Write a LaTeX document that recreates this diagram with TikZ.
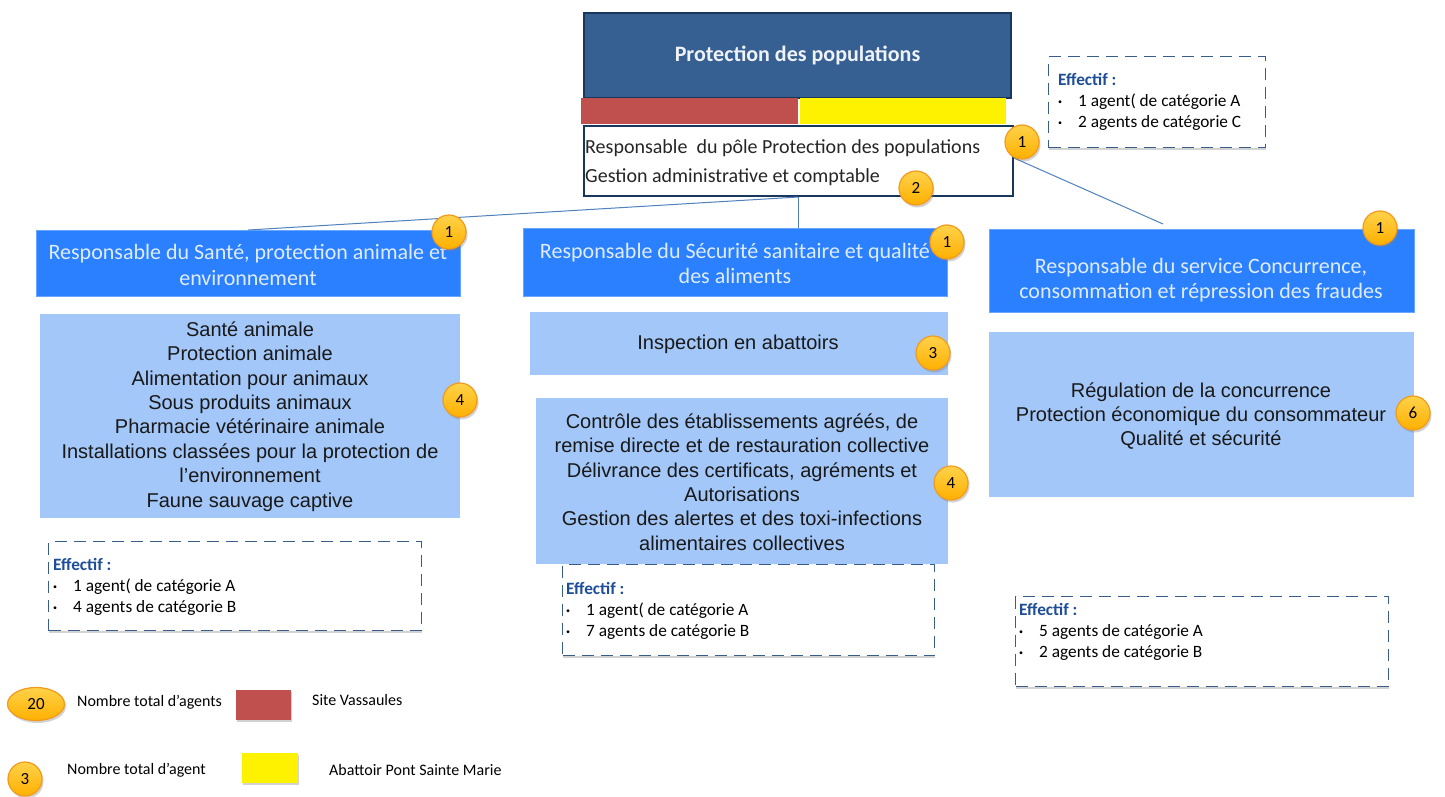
\documentclass[tikz,border=0pt]{standalone}
\usepackage{fontspec}
\setmainfont{Carlito}
\newfontfamily\arialf{Liberation Sans}
\usetikzlibrary{shadows,shapes.geometric}
\definecolor{navy}{HTML}{17375E}
\definecolor{topblue}{HTML}{376092}
\definecolor{hdrblue}{HTML}{2A80FF}
\definecolor{lightblue}{HTML}{A3C7F8}
\definecolor{redbar}{HTML}{C0504D}
\definecolor{linkblue}{HTML}{4F81BD}
\definecolor{effblue}{HTML}{1F4E99}
\definecolor{badgetop}{HTML}{FFD24A}
\definecolor{badgebot}{HTML}{FFB000}
\definecolor{badgeline}{HTML}{F39A1C}
\definecolor{dashcol}{HTML}{385D8A}
\tikzset{
  hdr/.style={fill=hdrblue, draw=hdrblue!70!white, anchor=north west, inner sep=0pt},
  hdrtext/.style={text=white!85!hdrblue, font=\fontsize{22}{25.5}\selectfont, align=center, inner sep=0pt},
  content/.style={fill=lightblue, draw=none, anchor=north west, inner sep=0pt},
  contenttext/.style={text=black!90, font=\arialf\fontsize{20}{24.4}\selectfont, align=center, inner sep=0pt},
  effbox/.style={draw=dashcol, line width=1.3pt, dash pattern=on 12pt off 7pt, fill=white, anchor=north west, inner sep=0pt,
     drop shadow={shadow xshift=0.5pt, shadow yshift=-2pt, opacity=.35}},
  efftext/.style={anchor=west, align=left, inner sep=0pt, font=\fontsize{17.3}{21}\selectfont},
  badge/.style={circle, minimum size=34pt, inner sep=0pt, draw=badgeline, line width=1.2pt,
     top color=badgetop, bottom color=badgebot, font=\fontsize{17}{17}\selectfont,
     drop shadow={shadow xshift=1.5pt, shadow yshift=-2.5pt, opacity=.35}},
  link/.style={draw=linkblue, line width=1pt},
  legtext/.style={anchor=west, inner sep=0pt, font=\fontsize{16}{18}\selectfont},
}
\newcommand{\bul}[1]{\makebox[20pt][l]{\raisebox{2.5pt}{\footnotesize•}}#1}
\newcommand{\eff}{{\color{effblue}\bfseries Effectif :}}
\begin{document}
\begin{tikzpicture}[x=1pt,y=-1pt]
\useasboundingbox (0,0) rectangle (1445,796);
\fill[white] (0,0) rectangle (1445,796);

% top block
\node[fill=topblue, draw=navy, line width=2pt, minimum width=427pt, minimum height=85pt, anchor=north west, inner sep=0pt] (top) at (583,12) {};
\node[text=white!92!topblue, font=\bfseries\fontsize{22}{24}\selectfont, inner sep=0pt] (toptext) at (top.center) {Protection des populations};
\node[fill=redbar, minimum width=217pt, minimum height=26pt, anchor=north west, inner sep=0pt] (redb) at (581,98) {};
\node[fill=yellow, minimum width=206pt, minimum height=26pt, anchor=north west, inner sep=0pt] (yelb) at (800,98) {};
\node[fill=white, draw=navy, line width=2pt, minimum width=429pt, minimum height=70pt, anchor=north west, inner sep=0pt] (resp) at (583,125) {};
\node[anchor=west, align=left, inner sep=0pt, font=\fontsize{20}{29}\selectfont, text=black!85] (resptext) at (585,163)
  {Responsable\ \ du pôle Protection des populations\\Gestion administrative et comptable};

% top right effectif
\node[effbox, minimum width=217pt, minimum height=91pt] (eff0) at (1048,56) {};
\node[efftext] (eff0t) at (1058,102) {\eff\\\bul{1 agent( de catégorie A}\\\bul{2 agents de catégorie C}};

% headers
\node[hdr, minimum width=424pt, minimum height=66pt] (h1) at (36,230) {};
\node[hdrtext] (h1t) at (248,265) {Responsable du Santé, protection animale et\\environnement};
\node[hdr, minimum width=424pt, minimum height=68pt] (h2) at (523,228) {};
\node[hdrtext] (h2t) at (735,263.5) {Responsable du Sécurité sanitaire et qualité\\des aliments};
\node[hdr, minimum width=425pt, minimum height=83pt] (h3) at (989,229) {};
\node[hdrtext] (h3t) at (1201,280) {Responsable du service Concurrence,\\consommation et répression des fraudes};

% contents
\node[content, minimum width=420pt, minimum height=204pt] (c1) at (40,314) {};
\node[contenttext] (c1t) at (250,416.5) {Santé animale\\Protection animale\\Alimentation pour animaux\\Sous produits animaux\\Pharmacie vétérinaire animale\\Installations classées pour la protection de\\l’environnement\\Faune sauvage captive};
\node[content, minimum width=418pt, minimum height=63pt] (c2a) at (530,312) {};
\node[contenttext] (c2at) at (738,344) {Inspection en abattoirs};
\node[content, minimum width=412pt, minimum height=166pt] (c2b) at (536,398) {};
\node[contenttext] (c2bt) at (742,482) {Contrôle des établissements agréés, de\\remise directe et de restauration collective\\Délivrance des certificats, agréments et\\Autorisations\\Gestion des alertes et des toxi-infections\\alimentaires collectives};
\node[content, minimum width=425pt, minimum height=165pt] (c3) at (989,332) {};
\node[contenttext] (c3t) at (1201,416) {Régulation de la concurrence\\Protection économique du consommateur\\Qualité et sécurité};

% effectif boxes
\node[effbox, minimum width=373pt, minimum height=89pt] (eff1) at (48,541) {};
\node[efftext] (eff1t) at (53,587) {\eff\\\bul{1 agent( de catégorie A}\\\bul{4 agents de catégorie B}};
\node[effbox, minimum width=372pt, minimum height=91pt] (eff2) at (562,564) {};
\node[efftext] (eff2t) at (566,611) {\eff\\\bul{1 agent( de catégorie A}\\\bul{7 agents de catégorie B}};
\node[effbox, minimum width=373pt, minimum height=90pt] (eff3) at (1015,596) {};
\node[efftext] (eff3t) at (1019,632) {\eff\\\bul{5 agents de catégorie A}\\\bul{2 agents de catégorie B}};

% connectors
\coordinate (h3link) at (1163,224);
\draw[link] (resp.south) -- (h1.north);
\draw[link] (resp.south) -- (resp.south |- h2.north);
\draw[link] ([yshift=3pt]resp.east) -- (h3link);

% badges
\node[badge] (b0) at (1022,142) {1};
\node[badge] (b00) at (916,188) {2};
\node[badge] (b1) at (449,232) {1};
\node[badge] (b2) at (947,242) {1};
\node[badge] (b3) at (1380,228) {1};
\node[badge] (b4) at (460,400) {4};
\node[badge] (b5) at (933,353) {3};
\node[badge] (b6) at (951,483) {4};
\node[badge] (b7) at (1413,413) {6};

% legend
\node[badge, ellipse, minimum width=57pt, minimum height=33pt] (lg1) at (36,704) {20};
\node[legtext] (lg1t) at (77,702) {Nombre total d’agents};
\node[fill=redbar, minimum width=55pt, minimum height=30pt, inner sep=0pt, anchor=north west,
  drop shadow={shadow xshift=0.5pt, shadow yshift=-2pt, opacity=.35}] (lgred) at (236,690) {};
\node[legtext] (lgredt) at (312,700) {Site Vassaules};
\node[badge] (lg2) at (25,779) {3};
\node[legtext] (lg2t) at (67,770) {Nombre total d’agent};
\node[fill=yellow, minimum width=56pt, minimum height=30pt, inner sep=0pt, anchor=north west,
  drop shadow={shadow xshift=0.5pt, shadow yshift=-2pt, opacity=.35}] (lgyel) at (242,753) {};
\node[legtext] (lgyelt) at (329,770) {Abattoir Pont Sainte Marie};
\end{tikzpicture}
\end{document}
